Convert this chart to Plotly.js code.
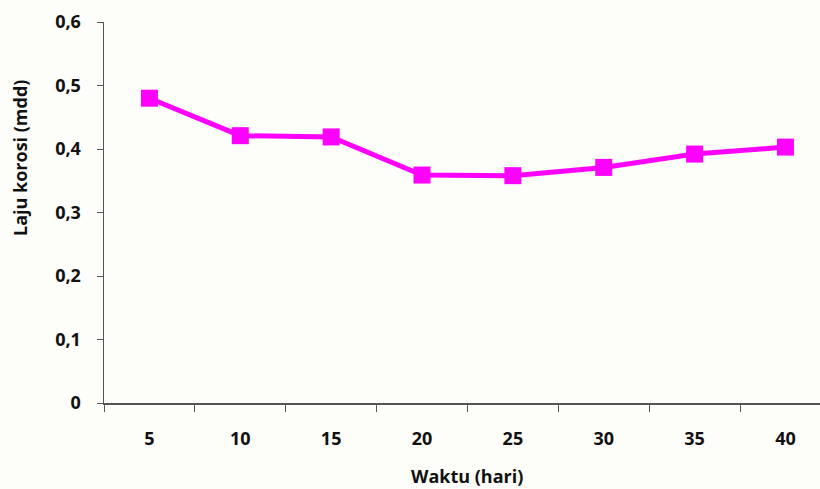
<!DOCTYPE html>
<html>
<head>
<meta charset="utf-8">
<script src="https://cdn.plot.ly/plotly-3.0.1.min.js"></script>
<style>
  html, body { margin: 0; padding: 0; background: #fdfdf9; }
  #chart { width: 820px; height: 489px; }
</style>
</head>
<body>
<div id="chart"></div>
<script>
// Waktu (hari) and corrosion rate (mdd)
const days = ['5', '10', '15', '20', '25', '30', '35', '40'];
const corrosionRate = [0.48, 0.421, 0.419, 0.359, 0.358, 0.371, 0.392, 0.403];
const yTickValues = [0, 0.1, 0.2, 0.3, 0.4, 0.5, 0.6];
const yTickLabels = ['0', '0,1', '0,2', '0,3', '0,4', '0,5', '0,6'];
const xTitle = 'Waktu (hari)';
const yTitle = 'Laju korosi (mdd)';

const family = '"Open Sans", "Liberation Sans", sans-serif';
const tickFont = { family: family, size: 18, color: '#111', weight: 'bold' };
const titleFont = { family: family, size: 18, color: '#111', weight: 'bold' };

const trace = {
  type: 'scatter',
  mode: 'lines+markers',
  x: days,
  y: corrosionRate,
  line: { color: '#ff00ff', width: 5 },
  marker: { symbol: 'square', size: 17, color: '#ff00ff' },
  hoverinfo: 'skip'
};

const layout = {
  width: 820,
  height: 489,
  paper_bgcolor: '#fdfdf9',
  plot_bgcolor: 'rgba(0,0,0,0)',
  margin: { l: 104, r: 0, t: 22, b: 86 },
  showlegend: false,
  font: { family: family, size: 18, color: '#111' },
  xaxis: {
    type: 'category',
    range: [-0.5, 7.38],
    tickson: 'boundaries',
    ticks: 'outside',
    ticklen: 7,
    tickcolor: '#555',
    showline: true,
    linecolor: '#555',
    linewidth: 1.5,
    showgrid: false,
    zeroline: false,
    ticklabelstandoff: 19,
    tickfont: tickFont
  },
  yaxis: {
    range: [0, 0.6],
    tickvals: yTickValues,
    ticktext: yTickLabels,
    ticks: 'outside',
    ticklen: 6,
    tickcolor: '#555',
    showline: true,
    linecolor: '#555',
    linewidth: 1.5,
    showgrid: false,
    zeroline: false,
    ticklabelstandoff: 12,
    tickfont: tickFont
  },
  annotations: [
    {
      text: xTitle, font: titleFont, showarrow: false,
      xref: 'paper', yref: 'paper', x: 0.507, y: 0,
      xanchor: 'center', yanchor: 'middle', yshift: -73
    },
    {
      text: yTitle, font: titleFont, showarrow: false, textangle: -90,
      xref: 'paper', yref: 'paper', x: 0, y: 0.643,
      xanchor: 'center', yanchor: 'middle', xshift: -84
    }
  ]
};

Plotly.newPlot('chart', [trace], layout, { displayModeBar: false, staticPlot: true });
</script>
</body>
</html>
